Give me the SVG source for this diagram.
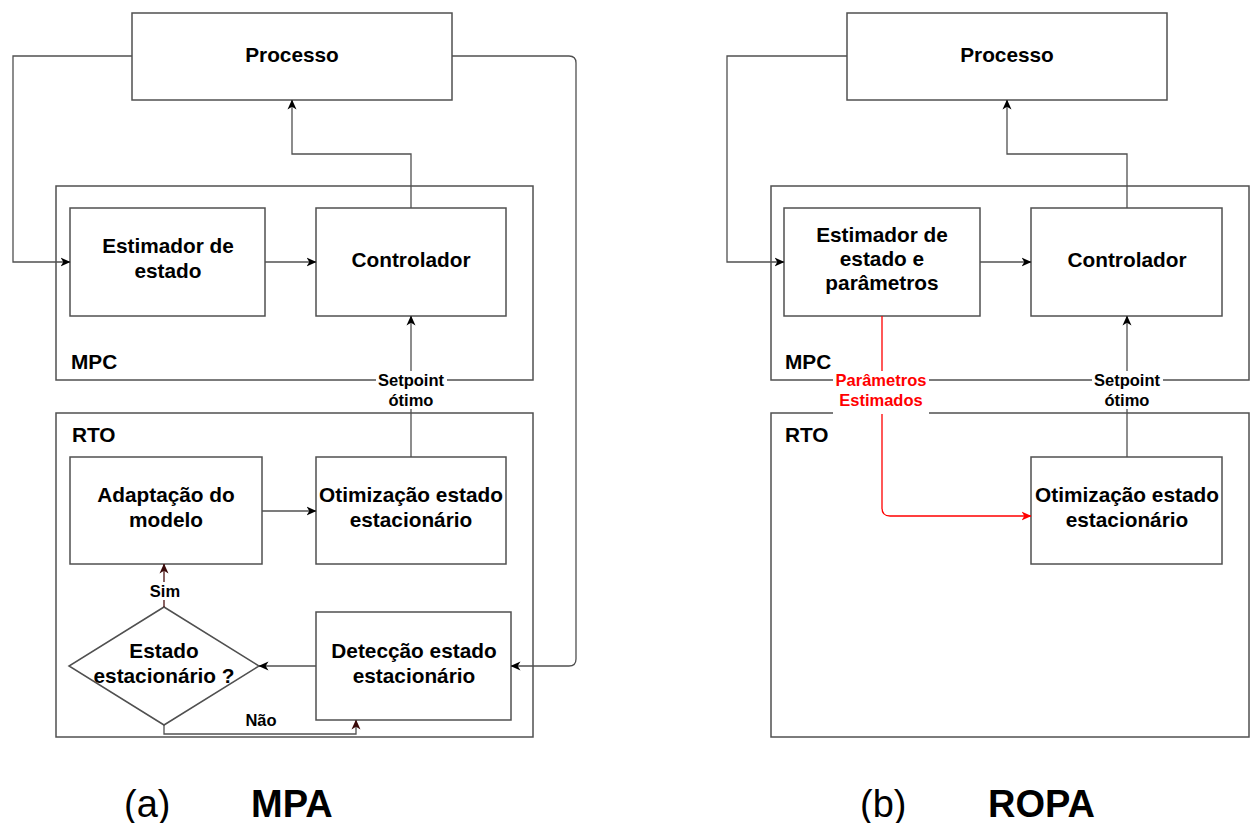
<svg xmlns="http://www.w3.org/2000/svg" width="1251" height="823" viewBox="0 0 1251 823">
<style>
.box{fill:#fff;stroke:#505050;stroke-width:1.5}
.cont{fill:none;stroke:#505050;stroke-width:1.5}
.ln{fill:none;stroke:#505050;stroke-width:1.3}
.red{fill:none;stroke:#ff0000;stroke-width:1.3}
.brn{fill:none;stroke:#4a1010;stroke-width:1.3}
text{font-family:"Liberation Sans",Arial,Helvetica,sans-serif;font-weight:bold;fill:#000}
.t{font-size:20.8px;text-anchor:middle}
.lb{font-size:20.8px}
.s{font-size:16.5px;text-anchor:middle}
.rt{fill:#ff0000}
.cap{font-size:38px;font-weight:normal}
.capb{font-size:38px}
</style>
<defs>
<marker id="a" viewBox="0 0 10 10" refX="9.5" refY="5" markerUnits="userSpaceOnUse" markerWidth="10" markerHeight="10" orient="auto">
<path d="M0,0.5 L10,5 L0,9.5 L2.8,5 Z" fill="#000"/>
</marker>
<marker id="ar" viewBox="0 0 10 10" refX="9.5" refY="5" markerUnits="userSpaceOnUse" markerWidth="10" markerHeight="10" orient="auto">
<path d="M0,0.5 L10,5 L0,9.5 L2.8,5 Z" fill="#ff0000"/>
</marker>
<marker id="ab" viewBox="0 0 10 10" refX="9.5" refY="5" markerUnits="userSpaceOnUse" markerWidth="10" markerHeight="10" orient="auto">
<path d="M0,0.5 L10,5 L0,9.5 L2.8,5 Z" fill="#3a0a0a"/>
</marker>
</defs>
<rect width="1251" height="823" fill="#fff"/>

<!-- LEFT PANEL (a) MPA -->
<g id="mpc-a"><rect class="cont" x="56" y="186" width="477" height="194"/><text class="lb" x="71" y="369">MPC</text></g>
<g id="rto-a"><rect class="cont" x="56" y="413" width="477" height="324"/><text class="lb" x="72" y="442">RTO</text></g>
<g id="processo-a"><rect class="box" x="132" y="13" width="320" height="87"/><text class="t" x="292" y="62">Processo</text></g>
<g id="estimador-a"><rect class="box" x="70" y="208" width="195" height="108"/><text class="t" x="168" y="253">Estimador de</text><text class="t" x="168" y="278">estado</text></g>
<g id="controlador-a"><rect class="box" x="316" y="208" width="190" height="108"/><text class="t" x="411" y="267">Controlador</text></g>
<g id="adaptacao-a"><rect class="box" x="70" y="457" width="192" height="107"/><text class="t" x="166" y="502">Adaptação do</text><text class="t" x="166" y="527">modelo</text></g>
<g id="otimizacao-a"><rect class="box" x="316" y="457" width="190" height="107"/><text class="t" x="411" y="502">Otimização estado</text><text class="t" x="411" y="527">estacionário</text></g>
<g id="deteccao-a"><rect class="box" x="316" y="612" width="195" height="108"/><text class="t" x="414" y="658">Detecção estado</text><text class="t" x="414" y="683">estacionário</text></g>
<g id="decisao-a"><path class="box" d="M164,607 L259,666 L164,725 L69,666 Z" stroke="#333"/><text class="t" x="164" y="658">Estado</text><text class="t" x="164" y="683">estacionário ?</text></g>

<!-- RIGHT PANEL (b) ROPA -->
<g id="mpc-b"><rect class="cont" x="771" y="186" width="478" height="194"/><text class="lb" x="785" y="369">MPC</text></g>
<g id="rto-b"><rect class="cont" x="771" y="413" width="478" height="324"/><text class="lb" x="785" y="442">RTO</text></g>
<g id="processo-b"><rect class="box" x="847" y="13" width="320" height="87"/><text class="t" x="1007" y="62">Processo</text></g>
<g id="estimador-b"><rect class="box" x="784" y="208" width="196" height="108"/><text class="t" x="882" y="242">Estimador de</text><text class="t" x="882" y="266">estado e</text><text class="t" x="882" y="290">parâmetros</text></g>
<g id="controlador-b"><rect class="box" x="1031" y="208" width="191" height="108"/><text class="t" x="1127" y="267">Controlador</text></g>
<g id="otimizacao-b"><rect class="box" x="1031" y="457" width="191" height="107"/><text class="t" x="1127" y="502">Otimização estado</text><text class="t" x="1127" y="527">estacionário</text></g>

<g id="connectors">
<!-- left -->
<path class="ln" d="M132,56 H13 V262 H70" marker-end="url(#a)"/>
<path class="ln" d="M452,56 H569 Q576,56 576,63 V659 Q576,666 569,666 H511" marker-end="url(#a)"/>
<path class="ln" d="M265,262 H316" marker-end="url(#a)"/>
<path class="ln" d="M411,208 V154 H292 V100" marker-end="url(#a)"/>
<path class="ln" d="M411,457 V316" marker-end="url(#a)"/>
<path class="ln" d="M262,511 H316" marker-end="url(#a)"/>
<path class="ln" d="M316,666 H259" marker-end="url(#a)"/>
<path class="brn" d="M164,607 V564" marker-end="url(#ab)"/>
<path class="ln" d="M164,725 V734 H356 V720" marker-end="url(#ab)"/>
<rect x="376" y="371" width="71" height="38" fill="#fff"/>
<text class="s" x="411" y="386">Setpoint</text>
<text class="s" x="411" y="406">ótimo</text>
<rect x="144" y="582" width="42" height="18" fill="#fff"/>
<text class="s" x="165" y="597">Sim</text>
<text class="s" x="261" y="726">Não</text>
<!-- right -->
<path class="ln" d="M847,56 H727 V262 H784" marker-end="url(#a)"/>
<path class="ln" d="M980,262 H1031" marker-end="url(#a)"/>
<path class="ln" d="M1127,208 V154 H1007 V100" marker-end="url(#a)"/>
<path class="ln" d="M1127,457 V316" marker-end="url(#a)"/>
<path class="red" d="M882,316 V508 Q882,516 890,516 H1031" marker-end="url(#ar)"/>
<rect x="1092" y="371" width="71" height="38" fill="#fff"/>
<text class="s" x="1127" y="386">Setpoint</text>
<text class="s" x="1127" y="406">ótimo</text>
<rect x="833" y="371" width="96" height="43" fill="#fff"/>
<text class="s rt" x="881" y="386">Parâmetros</text>
<text class="s rt" x="881" y="406">Estimados</text>
</g>

<text class="cap" x="124" y="817">(a)</text>
<text class="capb" x="251" y="817">MPA</text>
<text class="cap" x="860" y="817">(b)</text>
<text class="capb" x="988" y="817">ROPA</text>
</svg>
